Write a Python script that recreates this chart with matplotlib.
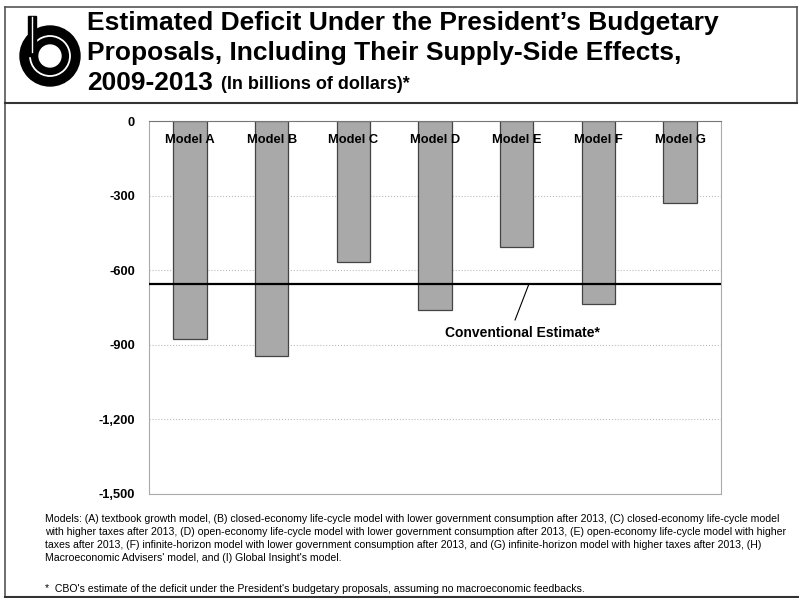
import matplotlib.pyplot as plt
from matplotlib.patches import Circle, Rectangle

# Deficit under each model, billions of dollars
models = ['Model A', 'Model B', 'Model C', 'Model D', 'Model E', 'Model F', 'Model G']
deficit = [-877, -945, -566, -760, -505, -735, -328]
conventional = -655
yticks = [0, -300, -600, -900, -1200, -1500]
ytick_labels = ['0', '-300', '-600', '-900', '-1,200', '-1,500']

note_models = ("Models: (A) textbook growth model, (B) closed-economy life-cycle model with lower government consumption after 2013, (C) closed-economy life-cycle model\n"
               "with higher taxes after 2013, (D) open-economy life-cycle model with lower government consumption after 2013, (E) open-economy life-cycle model with higher\n"
               "taxes after 2013, (F) infinite-horizon model with lower government consumption after 2013, and (G) infinite-horizon model with higher taxes after 2013, (H)\n"
               "Macroeconomic Advisers' model, and (I) Global Insight's model.")
note_star = "*  CBO's estimate of the deficit under the President's budgetary proposals, assuming no macroeconomic feedbacks."

plt.rcParams['font.family'] = ['Liberation Sans', 'DejaVu Sans']

fig = plt.figure(figsize=(7.99, 5.98), dpi=100)

# background layer in pixel coordinates for frame, logo and title
bg = fig.add_axes([0, 0, 1, 1])
bg.set_xlim(0, 799)
bg.set_ylim(598, 0)
bg.axis('off')
bg.plot([5, 5], [7, 598], color='#555555', lw=1.2)
bg.plot([5, 797], [7, 7], color='#555555', lw=1.2)
bg.plot([797, 797], [7, 103], color='#555555', lw=1.2)
bg.plot([5, 797], [103, 103], color='#333333', lw=1.5)
bg.plot([5, 799], [597, 597], color='#333333', lw=1.5)

# logo
bg.add_patch(Circle((50, 56), 30, color='black'))
bg.add_patch(Circle((50, 56), 20, fill=False, ec='white', lw=1.3))
bg.add_patch(Circle((50, 56), 11, color='white'))
bg.add_patch(Rectangle((28, 16), 8, 40, color='black'))
bg.plot([32, 32], [17, 52], color='white', lw=1.0)

bg.text(87, 11, "Estimated Deficit Under the President\u2019s Budgetary", fontsize=19,
        fontweight='bold', va='top')
bg.text(87, 41, "Proposals, Including Their Supply-Side Effects,", fontsize=19,
        fontweight='bold', va='top')
bg.text(87, 71, "2009-2013", fontsize=19, fontweight='bold', va='top')
bg.text(221, 76, "(In billions of dollars)*", fontsize=13, fontweight='bold', va='top')

bg.text(45, 514, note_models, fontsize=7.6, va='top', linespacing=1.37)
bg.text(45, 584, note_star, fontsize=7.6, va='top')

# chart
ax = fig.add_axes([149 / 799, 1 - 494 / 598, 572 / 799, 373 / 598])
x = range(len(models))
ax.bar(x, deficit, width=0.41, color='#a9a9a9', edgecolor='#444444', lw=0.9, zorder=2)
ax.axhline(conventional, color='black', lw=1.6, zorder=3)
for i, name in enumerate(models):
    ax.text(i, -75, name, ha='center', va='center', fontsize=9.3, fontweight='bold', zorder=4)

ax.set_xlim(-0.5, len(models) - 0.5)
ax.set_ylim(-1500, 0)
ax.set_yticks(yticks)
ax.set_yticklabels(ytick_labels, fontweight='bold', fontsize=9.3)
ax.set_xticks([])
ax.tick_params(axis='y', length=0, pad=10)
ax.grid(axis='y', ls=':', color='#bbbbbb', lw=0.8, zorder=0)
for s in ax.spines.values():
    s.set_color('#aaaaaa')
    s.set_linewidth(0.8)
ax.spines['top'].set_color('#777777')

ax.plot([4.15, 3.98], [conventional, -800], color='black', lw=0.8, zorder=3)
ax.text(4.07, -853, 'Conventional Estimate*', ha='center', va='center',
        fontsize=10, fontweight='bold')

fig.savefig('out.png', dpi=100)
